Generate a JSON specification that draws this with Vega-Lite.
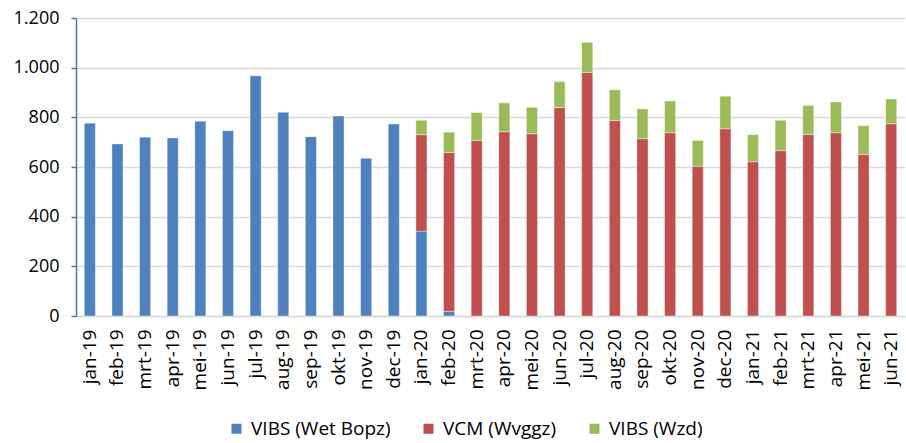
{
  "$schema": "https://vega.github.io/schema/vega-lite/v6.json",
  "width": 829,
  "height": 298,
  "autosize": {"type": "none"},
  "padding": {"left": 76, "top": 18, "right": 1, "bottom": 127},
  "background": "white",
  "config": {
    "font": "Open Sans",
    "view": {"stroke": null}
  },
  "data": {
    "values": [
      {"m": "jan-19", "s": "VIBS (Wet Bopz)", "o": 1, "v": 776},
      {"m": "feb-19", "s": "VIBS (Wet Bopz)", "o": 1, "v": 693},
      {"m": "mrt-19", "s": "VIBS (Wet Bopz)", "o": 1, "v": 720},
      {"m": "apr-19", "s": "VIBS (Wet Bopz)", "o": 1, "v": 717},
      {"m": "mei-19", "s": "VIBS (Wet Bopz)", "o": 1, "v": 784},
      {"m": "jun-19", "s": "VIBS (Wet Bopz)", "o": 1, "v": 746},
      {"m": "jul-19", "s": "VIBS (Wet Bopz)", "o": 1, "v": 967},
      {"m": "aug-19", "s": "VIBS (Wet Bopz)", "o": 1, "v": 820},
      {"m": "sep-19", "s": "VIBS (Wet Bopz)", "o": 1, "v": 722},
      {"m": "okt-19", "s": "VIBS (Wet Bopz)", "o": 1, "v": 805},
      {"m": "nov-19", "s": "VIBS (Wet Bopz)", "o": 1, "v": 635},
      {"m": "dec-19", "s": "VIBS (Wet Bopz)", "o": 1, "v": 773},
      {"m": "jan-20", "s": "VIBS (Wet Bopz)", "o": 1, "v": 342},
      {"m": "jan-20", "s": "VCM (Wvggz)", "o": 2, "v": 388},
      {"m": "jan-20", "s": "VIBS (Wzd)", "o": 3, "v": 58},
      {"m": "feb-20", "s": "VIBS (Wet Bopz)", "o": 1, "v": 19},
      {"m": "feb-20", "s": "VCM (Wvggz)", "o": 2, "v": 639},
      {"m": "feb-20", "s": "VIBS (Wzd)", "o": 3, "v": 82},
      {"m": "mrt-20", "s": "VCM (Wvggz)", "o": 2, "v": 707},
      {"m": "mrt-20", "s": "VIBS (Wzd)", "o": 3, "v": 112},
      {"m": "apr-20", "s": "VCM (Wvggz)", "o": 2, "v": 742},
      {"m": "apr-20", "s": "VIBS (Wzd)", "o": 3, "v": 116},
      {"m": "mei-20", "s": "VCM (Wvggz)", "o": 2, "v": 734},
      {"m": "mei-20", "s": "VIBS (Wzd)", "o": 3, "v": 106},
      {"m": "jun-20", "s": "VCM (Wvggz)", "o": 2, "v": 839},
      {"m": "jun-20", "s": "VIBS (Wzd)", "o": 3, "v": 105},
      {"m": "jul-20", "s": "VCM (Wvggz)", "o": 2, "v": 981},
      {"m": "jul-20", "s": "VIBS (Wzd)", "o": 3, "v": 121},
      {"m": "aug-20", "s": "VCM (Wvggz)", "o": 2, "v": 787},
      {"m": "aug-20", "s": "VIBS (Wzd)", "o": 3, "v": 124},
      {"m": "sep-20", "s": "VCM (Wvggz)", "o": 2, "v": 714},
      {"m": "sep-20", "s": "VIBS (Wzd)", "o": 3, "v": 120},
      {"m": "okt-20", "s": "VCM (Wvggz)", "o": 2, "v": 738},
      {"m": "okt-20", "s": "VIBS (Wzd)", "o": 3, "v": 128},
      {"m": "nov-20", "s": "VCM (Wvggz)", "o": 2, "v": 603},
      {"m": "nov-20", "s": "VIBS (Wzd)", "o": 3, "v": 104},
      {"m": "dec-20", "s": "VCM (Wvggz)", "o": 2, "v": 754},
      {"m": "dec-20", "s": "VIBS (Wzd)", "o": 3, "v": 131},
      {"m": "jan-21", "s": "VCM (Wvggz)", "o": 2, "v": 621},
      {"m": "jan-21", "s": "VIBS (Wzd)", "o": 3, "v": 109},
      {"m": "feb-21", "s": "VCM (Wvggz)", "o": 2, "v": 666},
      {"m": "feb-21", "s": "VIBS (Wzd)", "o": 3, "v": 122},
      {"m": "mrt-21", "s": "VCM (Wvggz)", "o": 2, "v": 731},
      {"m": "mrt-21", "s": "VIBS (Wzd)", "o": 3, "v": 117},
      {"m": "apr-21", "s": "VCM (Wvggz)", "o": 2, "v": 738},
      {"m": "apr-21", "s": "VIBS (Wzd)", "o": 3, "v": 124},
      {"m": "mei-21", "s": "VCM (Wvggz)", "o": 2, "v": 650},
      {"m": "mei-21", "s": "VIBS (Wzd)", "o": 3, "v": 116},
      {"m": "jun-21", "s": "VCM (Wvggz)", "o": 2, "v": 774},
      {"m": "jun-21", "s": "VIBS (Wzd)", "o": 3, "v": 100}
    ]
  },
  "mark": {"type": "bar", "stroke": "white", "strokeWidth": 0.6, "strokeOpacity": 0.6},
  "encoding": {
    "x": {
      "field": "m",
      "type": "nominal",
      "sort": null,
      "scale": {"paddingInner": 0.6, "paddingOuter": 0.3},
      "axis": {
        "title": null,
        "labelAngle": -90,
        "labelFontSize": 19,
        "labelColor": "#000000",
        "labelPadding": 13,
        "ticks": false,
        "domainColor": "#d9d9d9",
        "domainWidth": 1.5
      }
    },
    "y": {
      "field": "v",
      "type": "quantitative",
      "stack": "zero",
      "scale": {"domain": [0, 1200], "nice": false},
      "axis": {
        "title": null,
        "values": [0, 200, 400, 600, 800, 1000, 1200],
        "labelExpr": "replace(format(datum.value, ','), ',', '.')",
        "labelFontSize": 18,
        "labelColor": "#000000",
        "labelPadding": 12,
        "domainColor": "#4472C4",
        "domainWidth": 1.5,
        "tickColor": "#4472C4",
        "tickSize": 5,
        "tickWidth": 1.5,
        "gridColor": "#d9d9d9",
        "gridWidth": 1.5
      }
    },
    "color": {
      "field": "s",
      "type": "nominal",
      "scale": {
        "domain": ["VIBS (Wet Bopz)", "VCM (Wvggz)", "VIBS (Wzd)"],
        "range": ["#4F81BD", "#C0504D", "#9BBB59"]
      },
      "legend": {
        "title": null,
        "orient": "none",
        "direction": "horizontal",
        "legendX": 151,
        "legendY": 401,
        "symbolType": "square",
        "symbolSize": 100,
        "symbolStrokeWidth": 0,
        "labelFontSize": 19,
        "labelOffset": 5,
        "labelColor": "#000000",
        "columnPadding": 28,
        "labelLimit": 300
      }
    },
    "order": {"field": "o", "type": "quantitative"}
  }
}
